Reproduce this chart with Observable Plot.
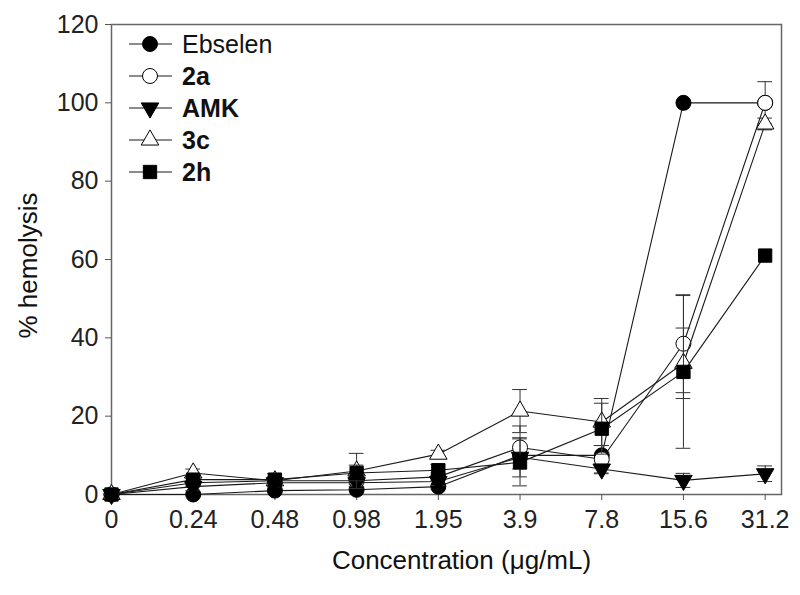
<!DOCTYPE html>
<html><head><meta charset="utf-8">
<script src="https://cdn.jsdelivr.net/npm/d3@7"></script>
<script src="https://cdn.jsdelivr.net/npm/@observablehq/plot@0.6"></script>
<style>body{margin:0;background:#fff;} #chart{width:800px;height:595px;}</style>
</head><body><div id="chart"></div>
<script>
// ---- data ----
const concentrations = ["0","0.24","0.48","0.98","1.95","3.9","7.8","15.6","31.2"];
const seriesNames = ["Ebselen","2a","AMK","3c","2h"];
const ebselen    = [0, 0,   1.0, 1.2, 2.0, 10.0, 10.0, 100.0, 100.0];
const ebselenErr = [0, 0,   0,   0,   0,   0,    0,    0,     0];
const s2a        = [0, 3.0, 3.5, 3.5, 4.5, 12.0, 9.0,  38.5,  100.0];
const s2aErr     = [0, 1.0, 1.0, 1.0, 1.0, 5.5,  3.5,  12.5,  5.4];
const amk        = [0, 2.0, 3.0, 3.0, 3.3, 9.5,  6.5,  3.6,   5.3];
const amkErr     = [0, 1.0, 1.0, 1.0, 1.0, 5.0,  1.2,  1.8,   2.0];
const s3c        = [0, 5.5, 3.5, 6.0, 10.3, 21.3, 18.5, 33.5, 94.6];
const s3cErr     = [0, 1.0, 1.0, 4.5, 1.0, 5.5,  6.0,  9.0,   1.5];
const s2h        = [0, 3.8, 3.8, 5.5, 6.2, 8.2,  16.8, 31.3,  61.0];
const s2hErr     = [0, 1.0, 1.5, 2.0, 1.5, 6.0,  6.5,  19.5,  0];
const yTicks = [0, 20, 40, 60, 80, 100, 120];

const series = [
  {name: seriesNames[0], values: ebselen, err: ebselenErr, symbol: "circle",   fill: "#000", r: 7.5, rotate: 0, bold: false},
  {name: seriesNames[1], values: s2a,     err: s2aErr,     symbol: "circle",   fill: "#fff", r: 7.5, rotate: 0, bold: true},
  {name: seriesNames[2], values: amk,     err: amkErr,     symbol: "triangle", fill: "#000", r: 6.5, rotate: 180, bold: true},
  {name: seriesNames[3], values: s3c,     err: s3cErr,     symbol: "triangle", fill: "#fff", r: 6.5, rotate: 0, bold: true},
  {name: seriesNames[4], values: s2h,     err: s2hErr,     symbol: "square",   fill: "#000", r: 7.5, rotate: 0, bold: true}
];

const capHalf = 0.09;
const marks = [];
for (const s of series) {
  const d = s.values.map((v, i) => ({series: s.name, xi: i, y: v, err: s.err[i]}));
  const e = d.filter(r => r.err > 0);
  marks.push(Plot.line(d, {x: "xi", y: "y", stroke: "#1a1a1a", strokeWidth: 1.1}));
  marks.push(Plot.ruleX(e, {x: "xi", y1: r => Math.max(0, r.y - r.err), y2: r => r.y + r.err, stroke: "#333", strokeWidth: 1}));
  marks.push(Plot.ruleY(e, {y: r => r.y + r.err, x1: r => r.xi - capHalf, x2: r => r.xi + capHalf, stroke: "#333", strokeWidth: 1}));
  marks.push(Plot.ruleY(e.filter(r => r.y - r.err > 0), {y: r => r.y - r.err, x1: r => r.xi - capHalf, x2: r => r.xi + capHalf, stroke: "#333", strokeWidth: 1}));
  marks.push(Plot.dot(d, {x: "xi", y: "y", symbol: () => s.symbol, r: s.r, fill: s.fill, stroke: "#000", strokeWidth: 1, rotate: s.rotate}));
}

const chart = Plot.plot({
  width: 800,
  height: 595,
  marginLeft: 111,
  marginRight: 19,
  marginTop: 24,
  marginBottom: 101,
  style: {fontFamily: "'Liberation Sans', Arial, sans-serif", fontSize: "25px", color: "#222", background: "#fff"},
  x: {domain: [0, 8.2]},
  y: {domain: [0, 120]},
  symbol: {type: "identity"},
  marks: [
    Plot.frame({stroke: "#666", strokeWidth: 1.5}),
    Plot.axisY({ticks: yTicks, tickSize: 6, tickPadding: 7, label: null, stroke: "#555"}),
    Plot.axisX({ticks: d3.range(concentrations.length), tickFormat: i => concentrations[i], tickSize: 6, tickPadding: 10, label: null, stroke: "#555"}),
    ...marks,
    Plot.text(["% hemolysis"], {frameAnchor: "left", textAnchor: "middle", dx: -83, dy: 6, rotate: -90, fontSize: 26, fill: "#111"}),
    Plot.text(["Concentration (\u03bcg/mL)"], {frameAnchor: "bottom", dx: 15, dy: 74, fontSize: 26, fill: "#111"})
  ]
});
document.getElementById("chart").appendChild(chart);

// ---- legend (inside plot, top-left) ----
const svg = d3.select(chart);
const lg = svg.append("g").attr("transform", "translate(129,44)");
const symMap = {circle: d3.symbolCircle, triangle: d3.symbolTriangle, square: d3.symbolSquare};
series.forEach((s, i) => {
  const g = lg.append("g").attr("transform", `translate(0,${i * 32})`);
  g.append("line").attr("x1", 0).attr("x2", 43).attr("y1", 0).attr("y2", 0).attr("stroke", "#1a1a1a").attr("stroke-width", 1.1);
  g.append("path")
    .attr("d", d3.symbol(symMap[s.symbol], Math.PI * s.r * s.r)())
    .attr("transform", `translate(21,0) rotate(${s.rotate})`)
    .attr("fill", s.fill).attr("stroke", "#000");
  g.append("text").attr("x", 53).attr("y", 0).attr("dy", "0.35em")
    .attr("text-anchor", "start")
    .attr("font-size", 25).attr("font-weight", s.bold ? "bold" : "normal")
    .attr("fill", "#111").text(s.name);
});
</script>
</body></html>
